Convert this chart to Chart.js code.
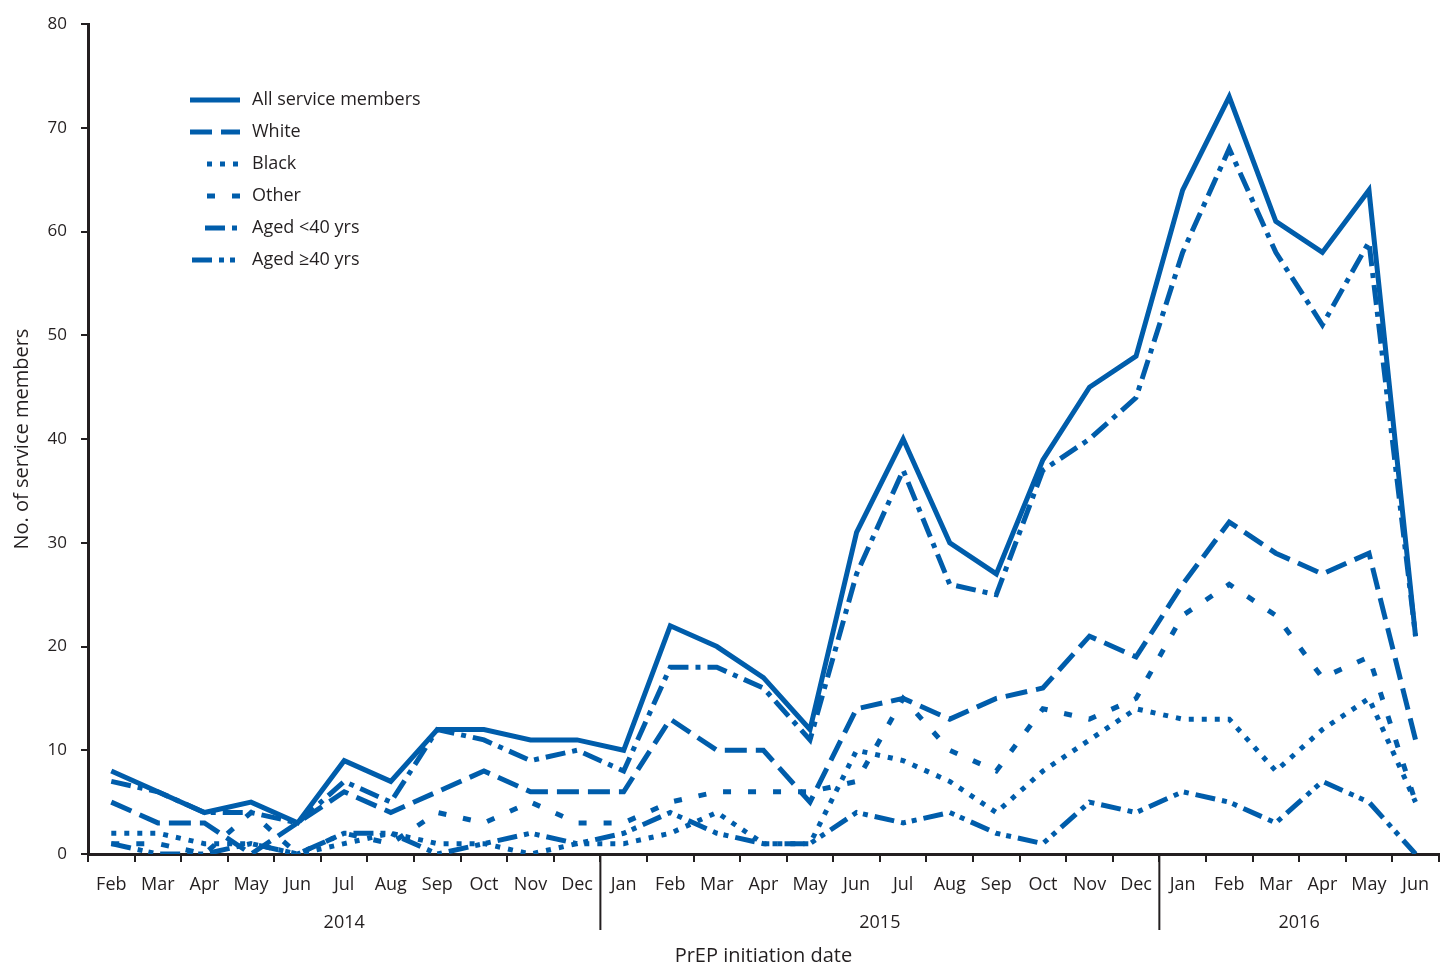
<!DOCTYPE html>
<html>
<head>
<meta charset="utf-8">
<title>PrEP initiation by month</title>
<script src="https://cdn.jsdelivr.net/npm/chart.js@4/dist/chart.umd.min.js"></script>
<style>
  html, body { margin: 0; padding: 0; background: #fff; }
  #wrap { width: 1441px; height: 966px; position: relative; }
</style>
</head>
<body>
<div id="wrap"><canvas id="chart"></canvas></div>
<script>
'use strict';

// ─── Data ─────────────────────────────────────────────────────────────────────

const months = ['Feb', 'Mar', 'Apr', 'May', 'Jun', 'Jul', 'Aug', 'Sep', 'Oct', 'Nov', 'Dec',
  'Jan', 'Feb', 'Mar', 'Apr', 'May', 'Jun', 'Jul', 'Aug', 'Sep', 'Oct', 'Nov', 'Dec',
  'Jan', 'Feb', 'Mar', 'Apr', 'May', 'Jun'];

const years = [
  { label: '2014', first: 0, last: 10 },
  { label: '2015', first: 11, last: 22 },
  { label: '2016', first: 23, last: 28 },
];

const allMembers = [8, 6, 4, 5, 3, 9, 7, 12, 12, 11, 11, 10, 22, 20, 17, 12, 31, 40, 30, 27, 38, 45, 48, 64, 73, 61, 58, 64, 21];
const white      = [5, 3, 3, 0, 3, 6, 4, 6, 8, 6, 6, 6, 13, 10, 10, 5, 14, 15, 13, 15, 16, 21, 19, 26, 32, 29, 27, 29, 11];
const black      = [2, 2, 1, 1, 0, 1, 2, 1, 1, 0, 1, 1, 2, 4, 1, 1, 10, 9, 7, 4, 8, 11, 14, 13, 13, 8, 12, 15, 5];
const other      = [1, 1, 0, 4, 0, 2, 1, 4, 3, 5, 3, 3, 5, 6, 6, 6, 7, 15, 10, 8, 14, 13, 15, 23, 26, 23, 17, 19, 5];
const under40    = [7, 6, 4, 4, 3, 7, 5, 12, 11, 9, 10, 8, 18, 18, 16, 11, 27, 37, 26, 25, 37, 40, 44, 58, 68, 58, 51, 59, 21];
const over40     = [1, 0, 0, 1, 0, 2, 2, 0, 1, 2, 1, 2, 4, 2, 1, 1, 4, 3, 4, 2, 1, 5, 4, 6, 5, 3, 7, 5, 0];

const yTicks = [0, 10, 20, 30, 40, 50, 60, 70, 80];

// ─── Style ────────────────────────────────────────────────────────────────────

const BLUE = '#005dab';
const INK = '#231f20';
const FONT = '"Open Sans", "Noto Sans", sans-serif';

const series = [
  { label: 'All service members', data: allMembers, dash: [], legendStart: 190 },
  { label: 'White', data: white, dash: [22, 9], legendStart: 190 },
  { label: 'Black', data: black, dash: [5, 8], legendStart: 207 },
  { label: 'Other', data: other, dash: [8, 17], legendStart: 207 },
  { label: 'Aged <40 yrs', data: under40, dash: [20, 7, 5, 7], legendStart: 205 },
  { label: 'Aged \u226540 yrs', data: over40, dash: [20, 7, 5, 6, 5, 7], legendStart: 192 },
];

// ─── Plugins ──────────────────────────────────────────────────────────────────

const legendPlugin = {
  id: 'lineLegend',
  afterDraw(chart) {
    const ctx = chart.ctx;
    ctx.save();
    chart.data.datasets.forEach((ds, i) => {
      const y = 100 + i * 32;
      ctx.beginPath();
      ctx.setLineDash(ds.borderDash || []);
      ctx.lineWidth = ds.borderWidth;
      ctx.strokeStyle = ds.borderColor;
      ctx.lineCap = 'butt';
      ctx.moveTo(series[i].legendStart, y);
      ctx.lineTo(240, y);
      ctx.stroke();
      ctx.setLineDash([]);
      ctx.fillStyle = INK;
      ctx.font = `18px ${FONT}`;
      ctx.textBaseline = 'middle';
      ctx.textAlign = 'left';
      ctx.fillText(ds.label, 252, y);
    });
    ctx.restore();
  },
};

const yearPlugin = {
  id: 'yearAxis',
  afterDraw(chart) {
    const ctx = chart.ctx;
    const x = chart.scales.x;
    const bottom = chart.chartArea.bottom;
    ctx.save();
    ctx.strokeStyle = INK;
    ctx.lineWidth = 2;
    ctx.fillStyle = INK;
    ctx.font = `18px ${FONT}`;
    ctx.textAlign = 'center';
    ctx.textBaseline = 'middle';
    years.forEach((yr, i) => {
      if (i > 0) {
        const sep = (x.getPixelForTick(yr.first - 1) + x.getPixelForTick(yr.first)) / 2;
        ctx.beginPath();
        ctx.moveTo(sep, bottom);
        ctx.lineTo(sep, 930);
        ctx.stroke();
      }
      const mid = (x.getPixelForTick(yr.first) + x.getPixelForTick(yr.last)) / 2;
      ctx.fillText(yr.label, mid, 923);
    });
    ctx.restore();
  },
};

// ─── Chart ────────────────────────────────────────────────────────────────────

new Chart(document.getElementById('chart'), {
  type: 'line',
  data: {
    labels: months,
    datasets: series.map(s => ({
      label: s.label,
      data: s.data,
      borderColor: BLUE,
      backgroundColor: BLUE,
      borderWidth: 5,
      borderDash: s.dash,
      borderCapStyle: 'butt',
      borderJoinStyle: 'miter',
      pointRadius: 0,
      tension: 0,
      fill: false,
    })),
  },
  options: {
    responsive: true,
    maintainAspectRatio: false,
    animation: false,
    layout: { padding: { top: 22, right: 0, left: 0, bottom: 0 } },
    plugins: {
      legend: { display: false },
      tooltip: { enabled: false },
    },
    scales: {
      x: {
        type: 'category',
        offset: true,
        grid: { display: true, drawOnChartArea: false, offset: true, tickLength: 8, color: INK, lineWidth: 2 },
        border: { display: true, color: INK, width: 3 },
        ticks: { color: INK, font: { size: 18, family: FONT }, padding: 12, maxRotation: 0, autoSkip: false },
        title: {
          display: true,
          text: 'PrEP initiation date',
          color: INK,
          font: { size: 20, family: FONT, lineHeight: 1 },
          padding: { top: 0, bottom: 0 },
        },
        afterFit: (scale) => { scale.height = 112; },
      },
      y: {
        min: 0,
        max: 80,
        afterBuildTicks: (scale) => { scale.ticks = yTicks.map(v => ({ value: v })); },
        grid: { display: true, drawOnChartArea: false, tickLength: 7, color: INK, lineWidth: 2 },
        border: { display: true, color: INK, width: 3 },
        ticks: { color: INK, font: { size: 17, family: FONT }, padding: 14 },
        title: {
          display: true,
          text: 'No. of service members',
          color: INK,
          font: { size: 20, family: FONT, lineHeight: 1.2 },
          padding: { top: 10, bottom: 0 },
        },
        afterFit: (scale) => { scale.width = 88; },
      },
    },
  },
  plugins: [legendPlugin, yearPlugin],
});
</script>
</body>
</html>
